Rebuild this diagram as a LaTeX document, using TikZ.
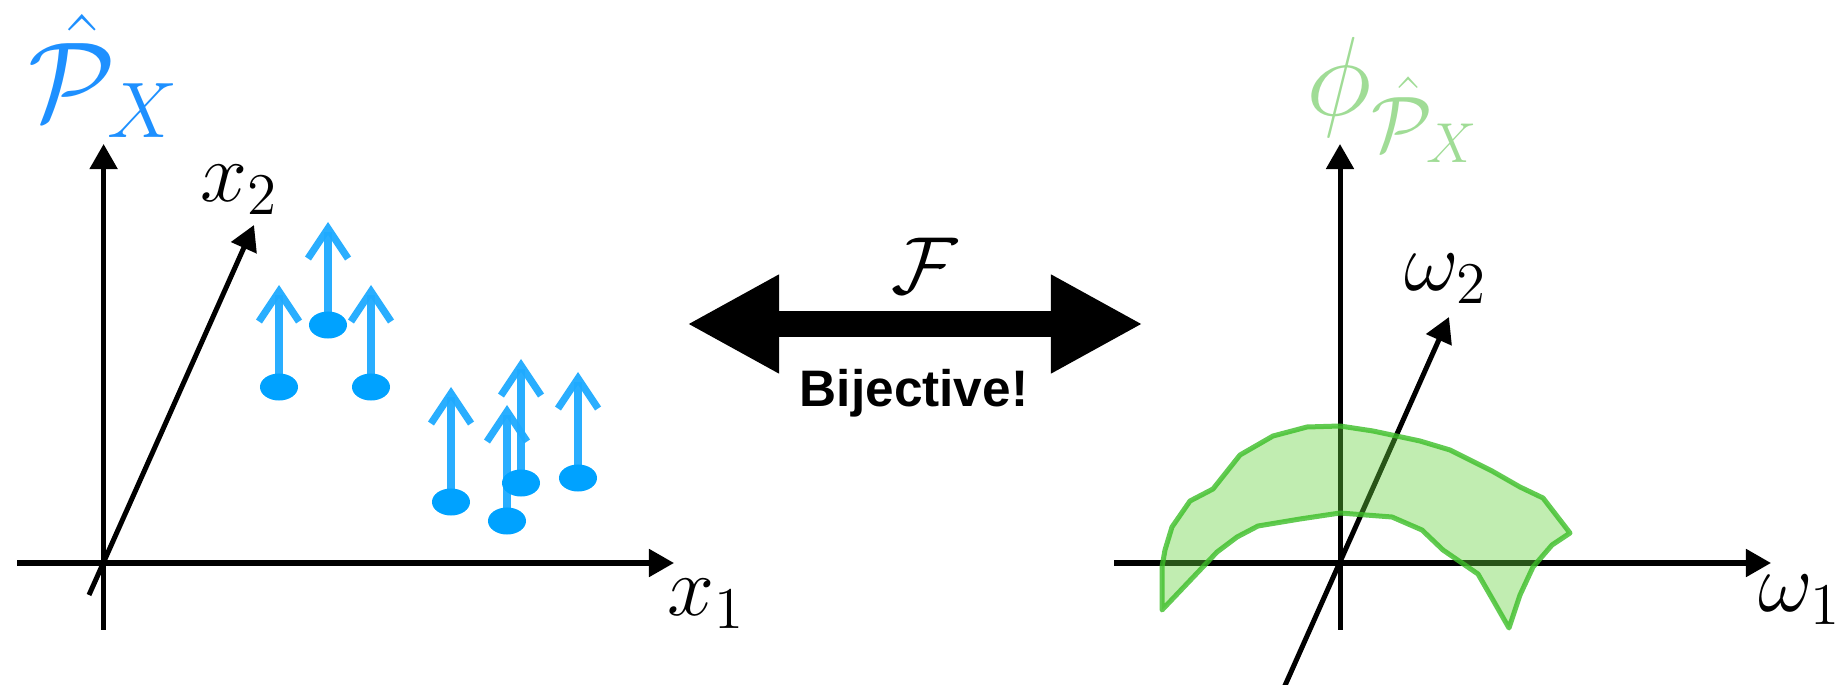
\RequirePackage{fix-cm}
\documentclass[tikz,border=0pt]{standalone}
\usepackage{fontspec}
\newfontfamily\labelsans{Liberation Sans}
\usepackage{tikz}
\usetikzlibrary{arrows.meta, positioning, calc, shapes.geometric}
\definecolor{dotblue}{RGB}{0,162,255}
\definecolor{vecblue}{RGB}{30,170,255}
\definecolor{setblue}{RGB}{30,144,255}
\definecolor{bandgreen}{RGB}{100,210,60}
\definecolor{edgegreen}{RGB}{60,190,40}
\definecolor{phigreen}{RGB}{160,220,150}

\begin{document}
\begin{tikzpicture}[
    x=0.01cm, y=-0.01cm,
    axis/.style   = {line width=0.05cm, -{Triangle[length=0.25cm, width=0.27cm]}},
    sample/.style = {ellipse, fill=dotblue, inner sep=0pt, minimum width=0.38cm, minimum height=0.27cm},
    vec/.style    = {line width=0.072cm, vecblue, opacity=0.95, -{Straight Barb[length=0.3cm, width=0.4cm]}},
    band/.style   = {fill=bandgreen, fill opacity=0.4, draw=edgegreen, draw opacity=0.8, line width=0.05cm, line join=round},
    big/.style    = {font=\fontsize{32}{38}\selectfont, inner sep=0pt},
    axlabel/.style = {font=\fontsize{24}{28}\selectfont, inner sep=0pt},
    bij/.style    = {line width=0.25cm, {Triangle[length=0.92cm, width=0.92cm]}-{Triangle[length=0.92cm, width=0.92cm]}}
]
\useasboundingbox (0,0) rectangle (1838,685);

\coordinate (xl) at (17,563);
\coordinate (xr) at (674,563);
\coordinate (yb) at (103.6,630);
\coordinate (yt) at (103.6,144);
\coordinate (zb) at (89,595);
\coordinate (zt) at (254,225);
\draw[axis] (xl) -- (xr);
\draw[axis] (yb) -- (yt);
\draw[axis] (zb) -- (zt);

\foreach \px/\py/\len [count=\i] in {279/387/102, 328/325/103, 371/387/102, 451/502/115,
                                      507/521/116, 521/483/124, 578/478/106} {
    \coordinate (b\i) at (\px,\py);
    \coordinate (t\i) at (\px,{\py-\len});
    \draw[vec] (b\i) -- (t\i);
}
\foreach \i in {1,...,7}
    \node[sample] (s\i) at (b\i) {};

\node[big, text=setblue] (phat) at (104,76) {$\hat{\mathcal{P}}_X$};
\node[axlabel] (lx2) at (239,190) {$x_2$};
\node[axlabel] (lx1) at (706,604) {$x_1$};

\coordinate (fl) at (687,324);
\coordinate (fr) at (1143,324);
\draw[bij] (fl) -- (fr);
\node[font=\fontsize{23}{27}\selectfont, inner sep=0pt] (lf) at (925,266) {$\mathcal{F}$};
\node[font=\labelsans\bfseries\fontsize{14.6}{17}\selectfont, anchor=base, inner sep=0pt] (lbij) at (914,407) {Bijective!};

\coordinate (wl) at (1114,563);
\coordinate (wr) at (1771,563);
\coordinate (vb) at (1340,630);
\coordinate (vt) at (1340,144);
\coordinate (ub) at (1283,690);
\coordinate (ut) at (1449,317);
\draw[axis] (wl) -- (wr);
\draw[axis] (vb) -- (vt);
\draw[axis] (ub) -- (ut);

\draw[band] (1162,610) -- (1162,567) -- (1165,550) -- (1172,527) -- (1190,501) -- (1213,489)
    -- (1240,455) -- (1273,436) -- (1307,427) -- (1340,426) -- (1373,431) -- (1420,441)
    -- (1450,450) -- (1492,471) -- (1520,487) -- (1543,498) -- (1570,533) -- (1552,545)
    -- (1533,567) -- (1520,595) -- (1509,628) -- (1493,600) -- (1478,574) -- (1443,550)
    -- (1422,530) -- (1392,517) -- (1340,513) -- (1300,519) -- (1258,526) -- (1237,537)
    -- (1217,552) -- (1200,570) -- cycle;

\node[big, text=phigreen] (lphi) at (1393,100) {$\phi_{\hat{\mathcal{P}}_X}$};
\node[axlabel] (lw2) at (1446,279) {$\omega_2$};
\node[axlabel] (lw1) at (1800,600) {$\omega_1$};
\end{tikzpicture}
\end{document}
